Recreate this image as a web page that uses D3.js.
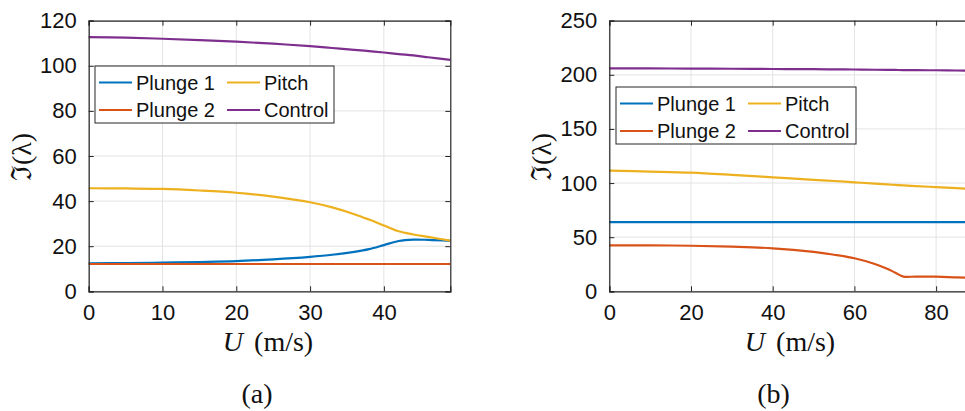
<html>
<script src="https://d3js.org/d3.v7.min.js"></script>
<style>
    body { margin: 0; background: white; }
    text { font-family: "Liberation Sans", Arial, sans-serif; fill: #111; }
    .grid line { stroke: #e3e3e3; stroke-width: 1; }
    .serif { font-family: "Liberation Serif", "DejaVu Serif", serif; }
</style>
<body>
<svg id="visual" width="965" height="411"></svg>
<script>
// ---- data ----
var seriesNames = ["Plunge 1", "Plunge 2", "Pitch", "Control"];
var colors = ["#0072BD", "#D95319", "#EDB120", "#7E2F8E"];

// panel (a)
var uA = [0, 5, 10, 15, 20, 25, 30, 33, 36, 38, 40, 42, 44, 46, 49];
var plunge1A = [12.4, 12.5, 12.7, 13.0, 13.4, 14.2, 15.3, 16.2, 17.5, 18.7, 20.5, 22.3, 22.9, 22.8, 22.4];
var plunge2A = [12.1, 12.1, 12.1, 12.1, 12.1, 12.1, 12.1, 12.1, 12.1, 12.1, 12.1, 12.1, 12.1, 12.1, 12.1];
var pitchA   = [45.7, 45.6, 45.4, 44.7, 43.7, 42.0, 39.5, 37.2, 34.2, 31.8, 29.2, 26.6, 25.2, 24.1, 22.5];
var controlA = [112.7, 112.5, 112.0, 111.4, 110.7, 109.8, 108.7, 107.9, 107.1, 106.5, 105.9, 105.2, 104.6, 103.8, 102.6];
var xTicksA = [0, 10, 20, 30, 40];
var yTicksA = [0, 20, 40, 60, 80, 100, 120];

// panel (b)
var uB = [0, 10, 20, 30, 40, 50, 55, 60, 65, 68, 70, 72, 75, 80, 85, 90];
var plunge1B = [64, 64, 64, 64, 64, 64, 64, 64, 64, 64, 64, 64, 64, 64, 64, 64];
var plunge2B = [42.5, 42.4, 42.1, 41.2, 39.7, 36.4, 33.8, 30.5, 25.2, 20.8, 17.2, 13.6, 13.6, 13.5, 12.8, 12.2];
var pitchB   = [111.4, 110.6, 109.6, 107.6, 105.3, 103.0, 101.9, 100.7, 99.5, 98.8, 98.3, 97.8, 97.2, 96.3, 95.3, 94.4];
var controlB = [206, 205.9, 205.8, 205.6, 205.4, 205.2, 205.0, 204.9, 204.7, 204.6, 204.5, 204.4, 204.3, 204.2, 204.0, 203.8];
var xTicksB = [0, 20, 40, 60, 80];
var yTicksB = [0, 50, 100, 150, 200, 250];

var svg = d3.select("#visual");

function panel(opt) {
    var x = d3.scaleLinear().domain(opt.xdom).range([opt.left, opt.right]);
    var y = d3.scaleLinear().domain(opt.ydom).range([291.3, 20.7]);
    var g = svg.append("g");

    // grid
    var grid = g.append("g").attr("class", "grid");
    grid.selectAll(".gx").data(opt.xticks).enter().append("line")
        .attr("x1", d => x(d)).attr("x2", d => x(d))
        .attr("y1", y.range()[0]).attr("y2", y.range()[1]);
    grid.selectAll(".gy").data(opt.yticks).enter().append("line")
        .attr("y1", d => y(d)).attr("y2", d => y(d))
        .attr("x1", opt.left).attr("x2", opt.right);

    // lines
    var line = d3.line()
        .x((d, i) => x(opt.u[i]))
        .y(d => y(d))
        .curve(d3.curveCatmullRom.alpha(0.5));
    opt.series.forEach(function (s, k) {
        g.append("path")
            .attr("d", line(s))
            .attr("fill", "none")
            .attr("stroke", colors[k])
            .attr("stroke-width", 2.2);
    });

    // axes (MATLAB style, ticks inside, box)
    var ax = d3.axisBottom(x).tickValues(opt.xticks).tickSize(-5).tickPadding(13);
    g.append("g").attr("transform", "translate(0," + y.range()[0] + ")").call(ax)
        .call(s => s.selectAll("text").style("font-size", "22px").attr("fill", "#111"));
    g.append("g").attr("transform", "translate(0," + y.range()[1] + ")")
        .call(d3.axisTop(x).tickValues(opt.xticks).tickSize(-5).tickFormat(""));
    var ay = d3.axisLeft(y).tickValues(opt.yticks).tickSize(-5).tickPadding(12);
    g.append("g").attr("transform", "translate(" + opt.left + ",0)").call(ay)
        .call(s => s.selectAll("text").style("font-size", "22px").attr("fill", "#111"));
    g.append("g").attr("transform", "translate(" + opt.right + ",0)")
        .call(d3.axisRight(y).tickValues(opt.yticks).tickSize(-5).tickFormat(""));
    g.selectAll(".domain").attr("stroke", "#262626").attr("stroke-width", 1.2);
    g.selectAll(".tick line").attr("stroke", "#262626");

    // axis labels
    g.append("text").attr("class", "serif")
        .attr("transform", "translate(" + opt.ylabX + ",157) rotate(-90)")
        .attr("text-anchor", "middle").style("font-size", "28px")
        .text("\u2111(\u03BB)");
    var xl = g.append("text").attr("class", "serif")
        .attr("x", opt.xlabX).attr("y", 351)
        .attr("text-anchor", "middle").style("font-size", "28px");
    xl.append("tspan").style("font-style", "italic").text("U");
    xl.append("tspan").attr("dx", 11).text("(m/s)");

    g.append("text").attr("class", "serif")
        .attr("x", opt.capX).attr("y", 403)
        .attr("text-anchor", "middle").style("font-size", "28px")
        .text(opt.caption);

    // legend
    var L = opt.legend;
    var lg = g.append("g").attr("transform", "translate(" + L.x + "," + L.y + ")");
    lg.append("rect").attr("width", L.w).attr("height", 57)
        .attr("fill", "white").attr("stroke", "#262626").attr("stroke-width", 1);
    var order = [[0, 0], [2, 1], [1, 0], [3, 1]];
    order.forEach(function (o) {
        var k = o[0], col = o[1];
        var row = (k === 0 || k === 2) ? 0 : 1;
        var cx = col === 0 ? 4 : L.col2;
        var cy = row === 0 ? 16.5 : 44;
        lg.append("line").attr("x1", cx).attr("x2", cx + 33)
            .attr("y1", cy).attr("y2", cy)
            .attr("stroke", colors[k]).attr("stroke-width", 2.2);
        lg.append("text").attr("x", cx + 37).attr("y", cy + 7)
            .style("font-size", "20px").text(seriesNames[k]);
    });
}

panel({
    xdom: [0, 49], ydom: [0, 120], left: 88.7, right: 450.3,
    u: uA, series: [plunge1A, plunge2A, pitchA, controlA],
    xticks: xTicksA, yticks: yTicksA,
    ylabX: 31, xlabX: 268, capX: 257, caption: "(a)",
    legend: { x: 95, y: 66, w: 239, col2: 132 }
});

panel({
    xdom: [0, 90], ydom: [0, 250], left: 609.3, right: 609.3 + 90 * 4.085,
    u: uB, series: [plunge1B, plunge2B, pitchB, controlB],
    xticks: xTicksB, yticks: yTicksB,
    ylabX: 551, xlabX: 790, capX: 773.5, caption: "(b)",
    legend: { x: 616, y: 87, w: 240, col2: 132 }
});
</script>
</body>
</html>
